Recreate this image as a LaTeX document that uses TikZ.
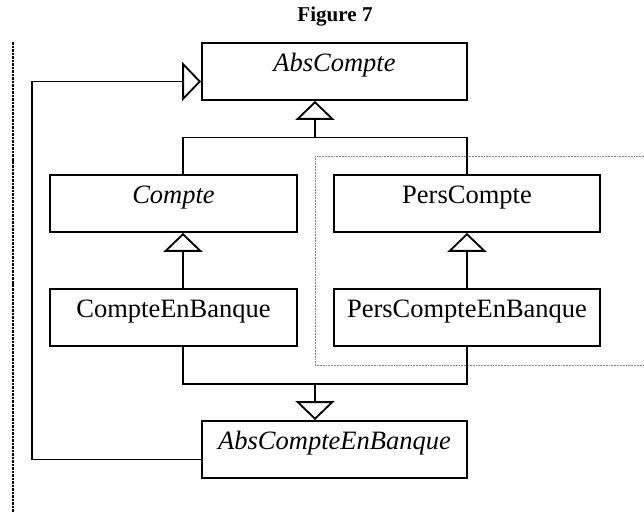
\documentclass[tikz,border=0pt]{standalone}
\usepackage{fontspec}
\setmainfont{Liberation Serif}
\usetikzlibrary{arrows.meta}

\tikzset{
  classbox/.style={draw, line width=1.4pt, minimum width=#1, inner xsep=0pt,
    inner ysep=0pt, text height=0.725cm, text depth=0.7cm,
    font=\fontsize{18.85}{22}\selectfont},
  gen/.style={line width=1.3pt, -{Triangle[open, length=0.47cm, width=0.97cm, line width=1.3pt]}},
  link/.style={line width=1.3pt}
}

\begin{document}
\begin{tikzpicture}
\useasboundingbox (0,0) rectangle (16.1,12.8);

\node [anchor=base, font=\fontsize{15}{18}\selectfont\bfseries] (title) at (8.375,12.25) {Figure 7};

% page edge on the left
\draw [line width=1.6pt, dash pattern=on 1.8pt off 0.7pt] (0.325,11.75)--(0.325,0);

% group round the Pers classes
\draw [gray, line width=0.4pt, dash pattern=on 0.5pt off 0.6pt]
(16.1,8.9)--(7.875,8.9)--(7.875,3.675)--(16.1,3.675);

\node [classbox=6.625cm] (abs) at (8.3625,11.0125) {\itshape AbsCompte};
\node [classbox=6.175cm] (compte) at (4.3375,7.7125) {\itshape Compte};
\node [classbox=6.65cm] (pers) at (11.675,7.7125) {PersCompte};
\node [classbox=6.175cm] (ceb) at (4.3375,4.8625) {CompteEnBanque};
\node [classbox=6.65cm] (pceb) at (11.675,4.8625) {PersCompteEnBanque};
\node [classbox=6.625cm] (aceb) at (8.3625,1.5625) {\itshape AbsCompteEnBanque};

\coordinate (lft) at (4.575,0);
\coordinate (topjoin) at (7.875,9.3625);
\coordinate (botjoin) at (7.875,3.2);
\coordinate (loopx) at (0.8,6);

% upper inheritance
\draw [link] (compte.north -| lft) |- (topjoin) -| (pers.north);
\draw [gen] (topjoin)--(abs.south -| topjoin);

\draw [gen] (ceb.north -| lft)--(compte.south -| lft);
\draw [gen] (pceb.north)--(pers.south);

% lower inheritance
\draw [link] (ceb.south -| lft) |- (botjoin) -| (pceb.south);
\draw [gen] (botjoin)--(aceb.north -| botjoin);

\draw [gen] ([yshift=-0.25cm]aceb.west) -| (loopx) |- ([yshift=-0.25cm]abs.west);
\end{tikzpicture}
\end{document}
